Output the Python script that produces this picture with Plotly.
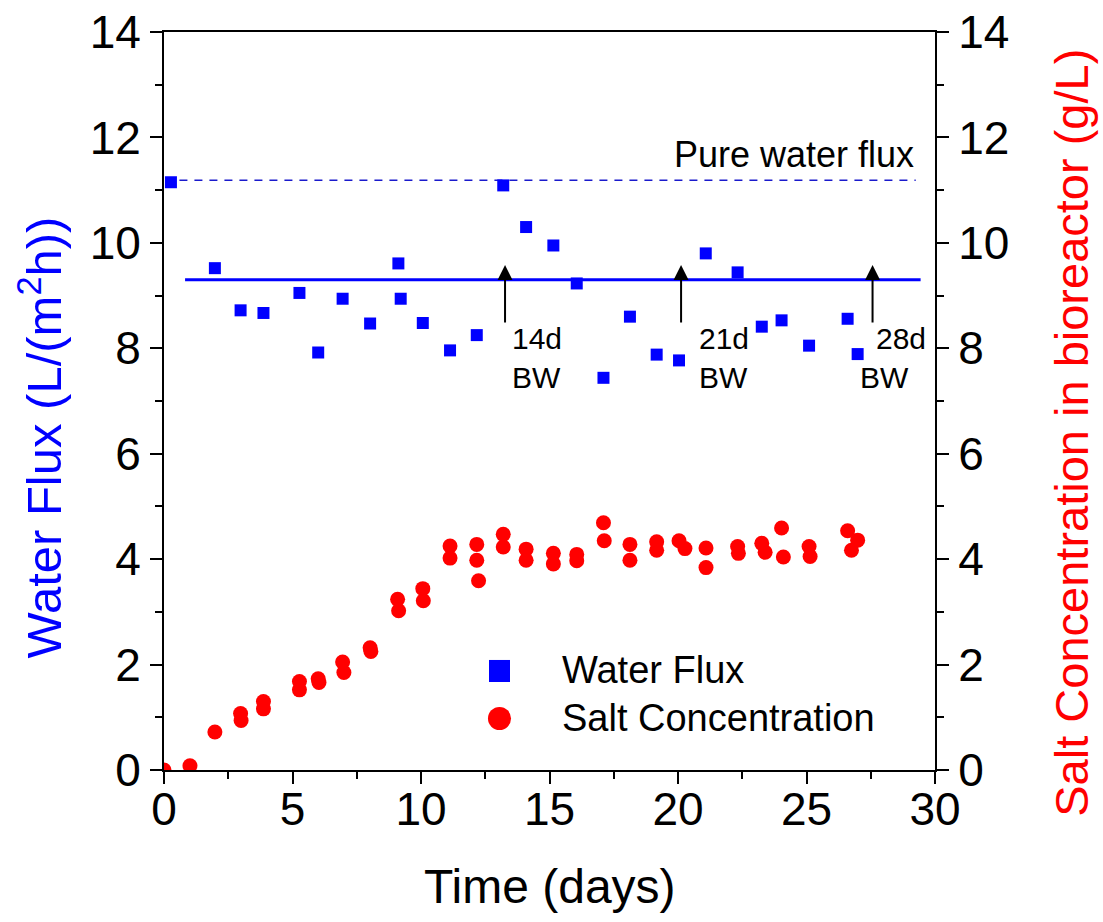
import plotly.graph_objects as go

# ---- data ----
flux_days = [0.27, 1.98, 2.98, 3.87, 5.27, 6.00, 6.95, 8.02, 9.12, 9.21, 10.07, 11.13, 12.17,
             13.20, 14.09, 15.15, 16.06, 17.10, 18.13, 19.17, 20.04, 21.08, 22.32, 23.26,
             24.03, 25.10, 26.60, 26.99]
flux_vals = [11.15, 9.52, 8.72, 8.67, 9.05, 7.92, 8.94, 8.47, 9.61, 8.94, 8.48, 7.96, 8.25,
             11.09, 10.30, 9.95, 9.23, 7.44, 8.60, 7.88, 7.77, 9.80, 9.44, 8.41,
             8.53, 8.05, 8.56, 7.89]

salt_days = [0.0, 1.01, 1.98, 2.98, 3.00, 3.87, 3.87, 5.27, 5.27, 6.00, 6.03, 6.95, 7.00,
             8.02, 8.05, 9.09, 9.13, 10.07, 10.09, 11.13, 11.13, 12.17, 12.17, 12.24,
             13.20, 13.20, 14.09, 14.09, 15.15, 15.15, 16.06, 16.06, 17.10, 17.13,
             18.13, 18.13, 19.17, 19.17, 20.04, 20.27, 21.09, 21.09, 22.32, 22.35,
             23.26, 23.39, 24.03, 24.10, 25.10, 25.14, 26.60, 26.75, 26.99]
salt_vals = [0.0, 0.08, 0.72, 1.07, 0.94, 1.30, 1.16, 1.68, 1.52, 1.73, 1.66, 2.05, 1.85,
             2.32, 2.25, 3.24, 3.02, 3.44, 3.21, 4.25, 4.02, 4.28, 3.98, 3.59,
             4.47, 4.23, 4.19, 3.98, 4.11, 3.91, 4.09, 3.97, 4.69, 4.35,
             4.28, 3.98, 4.33, 4.17, 4.35, 4.20, 4.21, 3.84, 4.24, 4.11,
             4.30, 4.13, 4.59, 4.04, 4.24, 4.05, 4.54, 4.17, 4.36]

mean_flux = 9.30
mean_span = [0.82, 29.44]
pure_flux = 11.19
pure_span = [0.6, 29.25]
pure_label = "Pure water flux"

bw_days = [13.27, 20.12, 27.57]
bw_arrow_base = 8.46
bw_arrow_tip = 9.58

label_texts = ["14d", "BW", "21d", "BW", "28d", "BW"]
label_x = [13.46, 13.46, 20.74, 20.74, 27.63, 27.0]
label_y = [8.18, 7.45, 8.18, 7.45, 8.18, 7.45]

x_ticks = [0, 5, 10, 15, 20, 25, 30]
y_ticks = [0, 2, 4, 6, 8, 10, 12, 14]

series_names = ["Water Flux", "Salt Concentration"]
x_title = "Time (days)"
y_title = "Water Flux (L/(m<sup>2</sup>h))"
y2_title = "Salt Concentration in bioreactor (g/L)"

FONT = "Liberation Sans, Arial, sans-serif"
BLUE = "#0000ff"
RED = "#ff0000"

fig = go.Figure()

fig.add_trace(go.Scatter(x=pure_span, y=[pure_flux, pure_flux], mode="lines",
                         line=dict(color="#1a1acc", width=1.5, dash="8px,7px"),
                         showlegend=False, hoverinfo="skip"))
fig.add_trace(go.Scatter(x=mean_span, y=[mean_flux, mean_flux], mode="lines",
                         line=dict(color=BLUE, width=3),
                         showlegend=False, hoverinfo="skip"))
fig.add_trace(go.Scatter(x=flux_days, y=flux_vals, mode="markers", name=series_names[0],
                         marker=dict(symbol="square", size=12, color=BLUE), showlegend=False))
fig.add_trace(go.Scatter(x=salt_days, y=salt_vals, mode="markers", name=series_names[1],
                         marker=dict(symbol="circle", size=15, color=RED),
                         yaxis="y2", showlegend=False))

for d in bw_days:
    fig.add_annotation(x=d, y=bw_arrow_tip, ax=d, ay=bw_arrow_base, xref="x", yref="y",
                       axref="x", ayref="y", text="", showarrow=True, arrowhead=2,
                       arrowsize=1.5, arrowwidth=2, arrowcolor="black")

for t, xx, yy in zip(label_texts, label_x, label_y):
    fig.add_annotation(x=xx, y=yy, xref="x", yref="y", text=t, showarrow=False,
                       xanchor="left", yanchor="middle",
                       font=dict(family=FONT, size=30, color="black"))

fig.add_annotation(x=pure_span[1], y=11.67, xref="x", yref="y", text=pure_label,
                   showarrow=False, xanchor="right", yanchor="middle",
                   font=dict(family=FONT, size=36, color="black"))

# legend (drawn manually to get the large symbols)
fig.add_shape(type="rect", xref="paper", yref="paper", x0=0.4215, x1=0.4488,
              y0=0.1192, y1=0.1491, fillcolor=BLUE, line=dict(width=0))
fig.add_shape(type="circle", xref="paper", yref="paper", x0=0.4202, x1=0.4501,
              y0=0.0542, y1=0.0854, fillcolor=RED, line=dict(width=0))
fig.add_annotation(x=0.5136, y=0.1355, xref="paper", yref="paper", text=series_names[0],
                   showarrow=False, xanchor="left", yanchor="middle",
                   font=dict(family=FONT, size=38, color="black"))
fig.add_annotation(x=0.5136, y=0.0705, xref="paper", yref="paper", text=series_names[1],
                   showarrow=False, xanchor="left", yanchor="middle",
                   font=dict(family=FONT, size=38, color="black"))

# axis titles
fig.add_annotation(x=-0.160, y=0.45, xref="paper", yref="paper", text=y_title,
                   showarrow=False, textangle=-90, xanchor="center", yanchor="middle",
                   font=dict(family=FONT, size=49, color=BLUE))
fig.add_annotation(x=1.176, y=0.4566, xref="paper", yref="paper", text=y2_title,
                   showarrow=False, textangle=-90, xanchor="center", yanchor="middle",
                   font=dict(family=FONT, size=47, color=RED))
fig.add_annotation(x=0.5006, y=-0.1585, xref="paper", yref="paper", text=x_title,
                   showarrow=False, xanchor="center", yanchor="middle",
                   font=dict(family=FONT, size=48, color="black"))

axis_common = dict(showline=True, linecolor="black", linewidth=2, ticks="outside",
                   ticklen=12, tickwidth=2, tickcolor="black", showgrid=False,
                   zeroline=False, ticklabeloverflow="allow",
                   tickfont=dict(family=FONT, size=46, color="black"))
minor_common = dict(ticklen=7, tickwidth=2, tickcolor="black", ticks="outside")

fig.update_layout(
    width=1103, height=922,
    margin=dict(l=164, r=168, t=32, b=152, autoexpand=False),
    paper_bgcolor="white", plot_bgcolor="white",
    font=dict(family=FONT, color="black"),
    showlegend=False,
    xaxis=dict(range=[0, 30], tickvals=x_ticks, mirror=True, ticklabelstandoff=-14,
               minor=dict(dtick=2.5, **minor_common), **axis_common),
    yaxis=dict(range=[0, 14], tickvals=y_ticks,
               minor=dict(dtick=1, **minor_common), **axis_common),
    yaxis2=dict(range=[0, 14], tickvals=y_ticks, overlaying="y", side="right",
                minor=dict(dtick=1, **minor_common), **axis_common),
)

fig.write_html("out.html", config={"displayModeBar": False},
               post_script="document.body.style.margin='0px';document.body.style.overflow='hidden';")
